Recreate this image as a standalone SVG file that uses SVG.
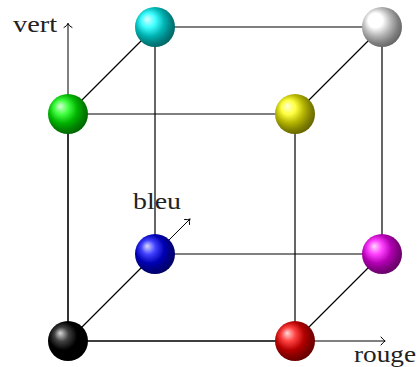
<svg xmlns="http://www.w3.org/2000/svg" width="419" height="367" viewBox="0 0 419 367">
<style>
.e{fill:none;stroke:#000;stroke-width:1.2}
.a{fill:none;stroke:#000;stroke-width:1;stroke-linecap:round;stroke-linejoin:round}
text{font-family:"Liberation Serif","Times New Roman",serif;font-size:24px;fill:#222}
</style>
<defs>
<radialGradient id="gk" cx="0.5" cy="0.5" r="1" fx="0.3" fy="0.3"><stop offset="0" stop-color="#d9d9d9"/><stop offset="0.18" stop-color="#404040"/><stop offset="0.36" stop-color="#000"/><stop offset="1" stop-color="#000"/></radialGradient>
<radialGradient id="gr" cx="0.5" cy="0.5" r="1" fx="0.3" fy="0.3"><stop offset="0" stop-color="#ffd9d9"/><stop offset="0.18" stop-color="#ff4040"/><stop offset="0.36" stop-color="#b30000"/><stop offset="0.5" stop-color="#800000"/><stop offset="1" stop-color="#000"/></radialGradient>
<radialGradient id="gg" cx="0.5" cy="0.5" r="1" fx="0.3" fy="0.3"><stop offset="0" stop-color="#d9ffd9"/><stop offset="0.18" stop-color="#40ff40"/><stop offset="0.36" stop-color="#00b300"/><stop offset="0.5" stop-color="#008000"/><stop offset="1" stop-color="#000"/></radialGradient>
<radialGradient id="gb" cx="0.5" cy="0.5" r="1" fx="0.3" fy="0.3"><stop offset="0" stop-color="#d9d9ff"/><stop offset="0.18" stop-color="#4040ff"/><stop offset="0.36" stop-color="#0000b3"/><stop offset="0.5" stop-color="#000080"/><stop offset="1" stop-color="#000"/></radialGradient>
<radialGradient id="gc" cx="0.5" cy="0.5" r="1" fx="0.3" fy="0.3"><stop offset="0" stop-color="#d9ffff"/><stop offset="0.18" stop-color="#40ffff"/><stop offset="0.36" stop-color="#00b3b3"/><stop offset="0.5" stop-color="#008080"/><stop offset="1" stop-color="#000"/></radialGradient>
<radialGradient id="gm" cx="0.5" cy="0.5" r="1" fx="0.3" fy="0.3"><stop offset="0" stop-color="#ffd9ff"/><stop offset="0.18" stop-color="#ff40ff"/><stop offset="0.36" stop-color="#b300b3"/><stop offset="0.5" stop-color="#800080"/><stop offset="1" stop-color="#000"/></radialGradient>
<radialGradient id="gy" cx="0.5" cy="0.5" r="1" fx="0.3" fy="0.3"><stop offset="0" stop-color="#ffffd9"/><stop offset="0.18" stop-color="#ffff40"/><stop offset="0.36" stop-color="#b3b300"/><stop offset="0.5" stop-color="#808000"/><stop offset="1" stop-color="#000"/></radialGradient>
<radialGradient id="gw" cx="0.5" cy="0.5" r="1" fx="0.3" fy="0.3"><stop offset="0" stop-color="#fff"/><stop offset="0.18" stop-color="#fff"/><stop offset="0.36" stop-color="#b3b3b3"/><stop offset="0.5" stop-color="#808080"/><stop offset="1" stop-color="#000"/></radialGradient>
</defs>
<g id="connectors">
<path class="e" d="M68 341H295M68 114H295M155 254H382M155 27H382M68 341V114M295 341V114M155 254V27M382 254V27M68 341L155 254M295 341L382 254M68 114L155 27M295 114L382 27"/>
<path class="a" d="M68 341V23.500M64 27.500Q67 26 68 23.500Q69 26 72 27.500"/>
<path class="a" d="M68 341H385M381 337Q383.500 340 385 341Q383.500 342 381 345"/>
<path class="a" d="M68 341L190 219M184.500 219.500Q188 220 190 219Q189 221 189.500 224.500"/>
</g>
<g id="label-vert"><text x="13" y="32" textLength="44" lengthAdjust="spacingAndGlyphs">vert</text></g>
<g id="label-bleu"><text x="133" y="209" textLength="48" lengthAdjust="spacingAndGlyphs">bleu</text></g>
<g id="label-rouge"><text x="354" y="362" textLength="62" lengthAdjust="spacingAndGlyphs">rouge</text></g>
<g id="node-black"><circle cx="68" cy="341" r="20" fill="url(#gk)"/></g>
<g id="node-red"><circle cx="295" cy="341" r="20" fill="url(#gr)"/></g>
<g id="node-green"><circle cx="68" cy="114" r="20" fill="url(#gg)"/></g>
<g id="node-yellow"><circle cx="295" cy="114" r="20" fill="url(#gy)"/></g>
<g id="node-blue"><circle cx="155" cy="254" r="20" fill="url(#gb)"/></g>
<g id="node-magenta"><circle cx="382" cy="254" r="20" fill="url(#gm)"/></g>
<g id="node-cyan"><circle cx="155" cy="27" r="20" fill="url(#gc)"/></g>
<g id="node-white"><circle cx="382" cy="27" r="20" fill="url(#gw)"/></g>
</svg>
